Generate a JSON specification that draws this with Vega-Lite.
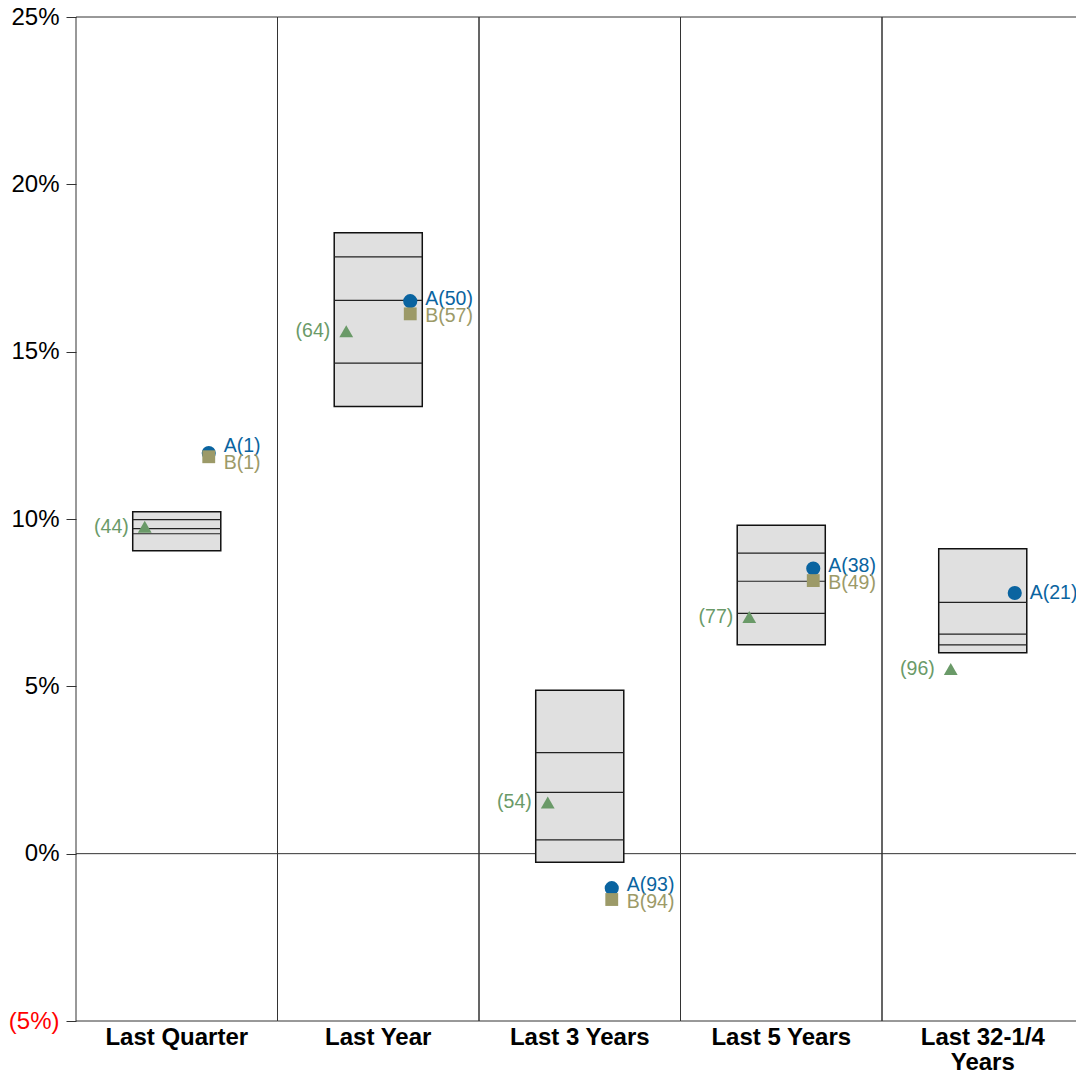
{
  "$schema": "https://vega.github.io/schema/vega-lite/v6.json",
  "width": 1000,
  "height": 1004,
  "autosize": {"type": "none"},
  "padding": {"left": 76, "top": 17, "right": 0, "bottom": 49},
  "config": {"font": "Liberation Sans", "view": {"stroke": null}},
  "datasets": {
    "boxes": [
      {"period": "Last Quarter", "p5": 10.22, "p25": 9.98, "p50": 9.71, "p75": 9.56, "p95": 9.05},
      {"period": "Last Year", "p5": 18.55, "p25": 17.83, "p50": 16.53, "p75": 14.66, "p95": 13.36},
      {"period": "Last 3 Years", "p5": 4.88, "p25": 3.02, "p50": 1.83, "p75": 0.41, "p95": -0.26},
      {"period": "Last 5 Years", "p5": 9.81, "p25": 8.98, "p50": 8.14, "p75": 7.18, "p95": 6.24},
      {"period": "Last 32-1/4 Years", "p5": 9.11, "p25": 7.51, "p50": 6.56, "p75": 6.24, "p95": 6.0}
    ],
    "points": [
      {"period": "Last Quarter", "series": "A", "value": 11.97, "label": "A(1)"},
      {"period": "Last Quarter", "series": "B", "value": 11.86, "label": "B(1)"},
      {"period": "Last Quarter", "series": "T", "value": 9.77, "label": "(44)"},
      {"period": "Last Year", "series": "A", "value": 16.51, "label": "A(50)"},
      {"period": "Last Year", "series": "B", "value": 16.13, "label": "B(57)"},
      {"period": "Last Year", "series": "T", "value": 15.61, "label": "(64)"},
      {"period": "Last 3 Years", "series": "A", "value": -1.03, "label": "A(93)"},
      {"period": "Last 3 Years", "series": "B", "value": -1.37, "label": "B(94)"},
      {"period": "Last 3 Years", "series": "T", "value": 1.53, "label": "(54)"},
      {"period": "Last 5 Years", "series": "A", "value": 8.52, "label": "A(38)"},
      {"period": "Last 5 Years", "series": "B", "value": 8.16, "label": "B(49)"},
      {"period": "Last 5 Years", "series": "T", "value": 7.07, "label": "(77)"},
      {"period": "Last 32-1/4 Years", "series": "A", "value": 7.79, "label": "A(21)"},
      {"period": "Last 32-1/4 Years", "series": "T", "value": 5.52, "label": "(96)"}
    ]
  },
  "layer": [
    {
      "data": {"name": "boxes"},
      "mark": {"type": "rect", "filled": false, "stroke": "#333", "strokeWidth": 1},
      "encoding": {
        "x": {
          "field": "period", "type": "nominal", "title": null,
          "sort": ["Last Quarter", "Last Year", "Last 3 Years", "Last 5 Years", "Last 32-1/4 Years"],
          "scale": {"paddingInner": 0, "paddingOuter": 0, "range": [0, 1007.5]},
          "axis": {
            "labelFontSize": 24, "labelFontWeight": "bold", "labelColor": "black", "labelFont": "Liberation Sans",
            "ticks": false, "domain": false, "grid": false, "labelPadding": 4, "labelAngle": 0,
            "labelExpr": "datum.label == 'Last 32-1/4 Years' ? ['Last 32-1/4', 'Years'] : datum.label",
            "labelLineHeight": 25, "labelBaseline": "top"
          }
        },
        "y": {
          "datum": -5, "type": "quantitative", "title": null,
          "scale": {"domain": [-5, 25], "nice": false, "zero": false},
          "axis": {
            "values": [-5, 0, 5, 10, 15, 20, 25],
            "labelExpr": "datum.value < 0 ? '(' + abs(datum.value) + '%)' : datum.value + '%'",
            "labelColor": {"condition": {"test": "datum.value < 0", "value": "red"}, "value": "black"},
            "labelFontSize": 24, "labelFont": "Liberation Sans", "labelPadding": 7, "tickSize": 10,
            "tickColor": "#333", "domain": false, "grid": false
          }
        },
        "y2": {"datum": 25}
      }
    },
    {
      "data": {"values": [{"z": 0}]},
      "mark": {"type": "rule", "stroke": "#333", "strokeWidth": 1},
      "encoding": {"y": {"field": "z", "type": "quantitative", "title": null}}
    },
    {
      "data": {"name": "boxes"},
      "mark": {"type": "bar", "width": {"band": 0.437}, "fill": "#e0e0e0", "stroke": "#111", "strokeWidth": 1.5},
      "encoding": {
        "x": {"field": "period", "type": "nominal", "title": null, "sort": ["Last Quarter", "Last Year", "Last 3 Years", "Last 5 Years", "Last 32-1/4 Years"]},
        "y": {"field": "p5", "type": "quantitative", "title": null},
        "y2": {"field": "p95"}
      }
    },
    {
      "data": {"name": "boxes"},
      "transform": [{"fold": ["p25", "p50", "p75"], "as": ["q", "qv"]}],
      "mark": {"type": "tick", "orient": "horizontal", "size": 88, "thickness": 1.2, "color": "#222", "opacity": 1},
      "encoding": {
        "x": {"field": "period", "type": "nominal", "title": null, "sort": ["Last Quarter", "Last Year", "Last 3 Years", "Last 5 Years", "Last 32-1/4 Years"]},
        "y": {"field": "qv", "type": "quantitative", "title": null}
      }
    },
    {
      "data": {"name": "points"},
      "transform": [{"filter": "datum.series == 'A'"}],
      "mark": {"type": "point", "shape": "circle", "filled": true, "size": 200, "opacity": 1, "color": "#0a64a0", "xOffset": 32},
      "encoding": {
        "x": {"field": "period", "type": "nominal", "title": null, "sort": ["Last Quarter", "Last Year", "Last 3 Years", "Last 5 Years", "Last 32-1/4 Years"]},
        "y": {"field": "value", "type": "quantitative", "title": null}
      }
    },
    {
      "data": {"name": "points"},
      "transform": [{"filter": "datum.series == 'B'"}],
      "mark": {"type": "point", "shape": "square", "filled": true, "size": 165, "opacity": 1, "color": "#9c9a68", "xOffset": 32},
      "encoding": {
        "x": {"field": "period", "type": "nominal", "title": null, "sort": ["Last Quarter", "Last Year", "Last 3 Years", "Last 5 Years", "Last 32-1/4 Years"]},
        "y": {"field": "value", "type": "quantitative", "title": null}
      }
    },
    {
      "data": {"name": "points"},
      "transform": [{"filter": "datum.series == 'T'"}],
      "mark": {"type": "point", "shape": "triangle-up", "filled": true, "size": 190, "opacity": 1, "color": "#6a9a68", "xOffset": -32},
      "encoding": {
        "x": {"field": "period", "type": "nominal", "title": null, "sort": ["Last Quarter", "Last Year", "Last 3 Years", "Last 5 Years", "Last 32-1/4 Years"]},
        "y": {"field": "value", "type": "quantitative", "title": null}
      }
    },
    {
      "data": {"name": "points"},
      "transform": [{"filter": "datum.series == 'T'"}],
      "mark": {"type": "text", "align": "right", "baseline": "middle", "fontSize": 19.5, "color": "#6a9a68", "xOffset": -32, "dx": -16},
      "encoding": {
        "x": {"field": "period", "type": "nominal", "title": null, "sort": ["Last Quarter", "Last Year", "Last 3 Years", "Last 5 Years", "Last 32-1/4 Years"]},
        "y": {"field": "value", "type": "quantitative", "title": null},
        "text": {"field": "label"}
      }
    },
    {
      "data": {"name": "points"},
      "transform": [
        {"filter": "datum.series != 'T'"},
        {"joinaggregate": [{"op": "mean", "field": "value", "as": "mid"}, {"op": "count", "as": "n"}], "groupby": ["period"]},
        {"filter": "datum.series == 'A' && datum.n == 2"}
      ],
      "mark": {"type": "text", "align": "left", "baseline": "middle", "fontSize": 19.5, "color": "#0a64a0", "xOffset": 32, "dx": 15, "dy": -8.5},
      "encoding": {
        "x": {"field": "period", "type": "nominal", "title": null, "sort": ["Last Quarter", "Last Year", "Last 3 Years", "Last 5 Years", "Last 32-1/4 Years"]},
        "y": {"field": "mid", "type": "quantitative", "title": null},
        "text": {"field": "label"}
      }
    },
    {
      "data": {"name": "points"},
      "transform": [
        {"filter": "datum.series != 'T'"},
        {"joinaggregate": [{"op": "mean", "field": "value", "as": "mid"}, {"op": "count", "as": "n"}], "groupby": ["period"]},
        {"filter": "datum.series == 'B'"}
      ],
      "mark": {"type": "text", "align": "left", "baseline": "middle", "fontSize": 19.5, "color": "#9c9a68", "xOffset": 32, "dx": 15, "dy": 8.5},
      "encoding": {
        "x": {"field": "period", "type": "nominal", "title": null, "sort": ["Last Quarter", "Last Year", "Last 3 Years", "Last 5 Years", "Last 32-1/4 Years"]},
        "y": {"field": "mid", "type": "quantitative", "title": null},
        "text": {"field": "label"}
      }
    },
    {
      "data": {"name": "points"},
      "transform": [
        {"filter": "datum.series != 'T'"},
        {"joinaggregate": [{"op": "count", "as": "n"}], "groupby": ["period"]},
        {"filter": "datum.series == 'A' && datum.n == 1"}
      ],
      "mark": {"type": "text", "align": "left", "baseline": "middle", "fontSize": 19.5, "color": "#0a64a0", "xOffset": 32, "dx": 15},
      "encoding": {
        "x": {"field": "period", "type": "nominal", "title": null, "sort": ["Last Quarter", "Last Year", "Last 3 Years", "Last 5 Years", "Last 32-1/4 Years"]},
        "y": {"field": "value", "type": "quantitative", "title": null},
        "text": {"field": "label"}
      }
    }
  ]
}
